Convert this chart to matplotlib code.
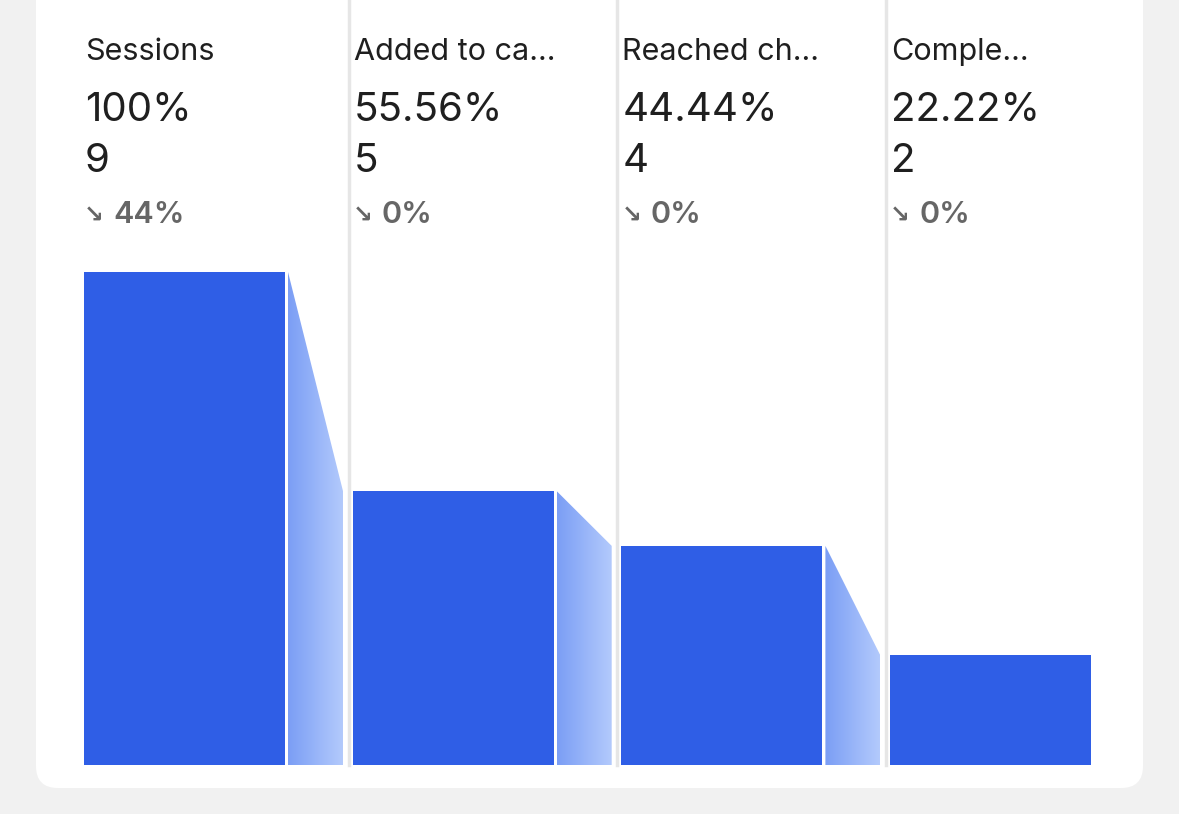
import matplotlib
matplotlib.use("Agg")
import matplotlib.pyplot as plt
from matplotlib.patches import FancyBboxPatch, Polygon
import numpy as np

labels = ["Sessions", "Added to ca...", "Reached ch...", "Comple..."]
counts = [9, 5, 4, 2]
pcts = ["100%", "55.56%", "44.44%", "22.22%"]
drops = ["44%", "0%", "0%", "0%"]

W, H = 1179, 814
fig = plt.figure(figsize=(W/100, H/100), dpi=100)
fig.patch.set_facecolor("#f1f1f1")
FONT = ["Inter", "DejaVu Sans"]

# background / text axes in pixel coords
bg = fig.add_axes([0, 0, 1, 1])
bg.set_xlim(0, W); bg.set_ylim(H, 0); bg.axis("off")
bg.add_patch(FancyBboxPatch((36, -40), 1107, 828, boxstyle="round,pad=0,rounding_size=22",
                            fc="white", ec="none"))
pitch = 268.7
x0 = 84
for i in range(1, 4):
    xs = x0 + i*pitch - 4
    bg.plot([xs, xs], [0, 765], color="#e6e6e6", lw=2.5, zorder=1)
for i in range(4):
    x = x0 + i*pitch + 1
    bg.text(x, 60, labels[i], fontsize=22, color="#1f1f1f", family=FONT, va="baseline")
    bg.text(x, 121, pcts[i], fontsize=29, color="#1f1f1f", family=FONT, va="baseline")
    bg.text(x, 172, str(counts[i]), fontsize=29, color="#1f1f1f", family=FONT, va="baseline")
    bg.text(x - 1, 223, "↘", fontsize=17, color="#666666", family=["DejaVu Sans"],
            va="baseline", fontweight="bold")
    bg.text(x + 28, 223, drops[i], fontsize=22, color="#666666", family=FONT,
            va="baseline", fontweight="semibold")

# bars axes
ax = fig.add_axes([0, 1 - 765/H, 1, (765 - 272)/H])
ax.set_xlim(0, W); ax.set_ylim(0, max(counts)); ax.axis("off")
bw = 201
gw = 55
lefts = [x0 + i*pitch for i in range(4)]
ax.bar(lefts, counts, width=bw, align="edge", color="#2f5ee6", zorder=2)
grad = np.linspace(0, 1, 256).reshape(1, -1)
from matplotlib.colors import LinearSegmentedColormap
cmap = LinearSegmentedColormap.from_list("g", ["#7b9ef5", "#b3cafc"])
for i in range(3):
    gx0 = lefts[i] + bw + 3
    gx1 = gx0 + gw
    poly = Polygon([(gx0, 0), (gx0, counts[i]), (gx1, counts[i+1]), (gx1, 0)],
                   closed=True, fc="none", ec="none")
    ax.add_patch(poly)
    im = ax.imshow(grad, extent=[gx0, gx1, 0, counts[i]], cmap=cmap, aspect="auto", zorder=2)
    im.set_clip_path(poly)
ax.set_xlim(0, W); ax.set_ylim(0, max(counts))

fig.savefig("out.png", dpi=100, facecolor=fig.get_facecolor())
